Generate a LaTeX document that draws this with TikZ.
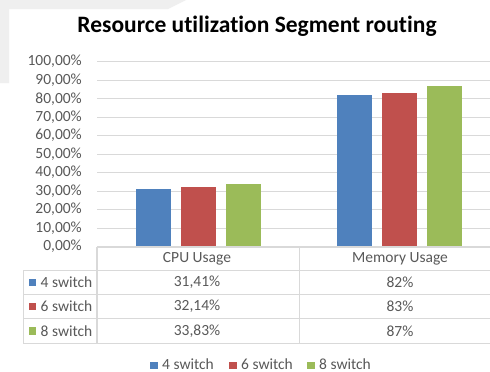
\documentclass[tikz,border=0pt]{standalone}
\usepackage{fontspec}
\setmainfont[Ligatures={NoCommon}]{Carlito}
\definecolor{serA}{HTML}{4F81BD}
\definecolor{serB}{HTML}{C0504D}
\definecolor{serC}{HTML}{9BBB59}
\definecolor{txtgray}{HTML}{595959}
\definecolor{gridgray}{HTML}{D9D9D9}
\definecolor{backgray}{HTML}{EFEFEF}
\begin{document}
\begin{tikzpicture}[x=1pt,y=-1pt,
  lbl/.style={font=\fontsize{15.5}{17}\selectfont, text=txtgray, inner sep=0pt},
  ttl/.style={font=\bfseries\fontsize{23.5}{26}\selectfont, text=black, inner sep=0pt},
  gridline/.style={draw=gridgray, line width=1pt},
  tabline/.style={draw=gridgray, line width=1.4pt},
  key/.style={minimum size=7.5pt, inner sep=0pt, draw=none}]
\useasboundingbox (0,0) rectangle (490,372);
\fill[white] (0,0) rectangle (490,372);
% pale backdrop behind the chart corner
\fill[backgray] (0,0) -- (186,0) -- (168,9) -- (9,9) -- (9,83) -- (0,83) -- cycle;

% title (kerns keep "t" and "i" as separate glyphs)
\node[ttl, anchor=base] (title) at (257,32.7) {Resource ut\kern0pt ilizat\kern0pt ion Segment rout\kern0pt ing};

% value axis: grid and labels
\foreach \i in {0,...,10}{
  \pgfmathsetmacro{\yy}{246.7-\i*18.5}
  \pgfmathtruncatemacro{\pct}{\i*10}
  \ifnum\i>0 \draw[gridline] (97,\yy) -- (490,\yy); \fi
  \node[lbl, anchor=east] (ylab\i) at (82,\yy) {\pct,00\%};
}

% bars
\def\base{246.7}
\foreach \x/\v/\c in {136/31.41/serA,181/32.14/serB,226/33.83/serC,
                      337/82/serA,382/83/serB,427/87/serC}{
  \fill[\c] (\x,\base) rectangle ({\x+35},{\base-\v*1.85});
}

% data table
\draw[tabline] (97,247) -- (490,247);
\foreach \yy in {270.7,294.3,318.7,343.3}{ \draw[tabline] (23.3,\yy) -- (490,\yy); }
\draw[tabline] (23.3,270.7) -- (23.3,343.3);
\draw[tabline] (97,247) -- (97,343.3);
\draw[tabline] (299.3,247) -- (299.3,343.3);

\node[lbl] (hcpu) at (197,258.5) {CPU Usage};
\node[lbl] (hmem) at (400,258.5) {Memory Usage};

\foreach \n/\yy/\c/\a/\b in {4/282.5/serA/{31,41\%}/{82\%},6/306.5/serB/{32,14\%}/{83\%},8/331/serC/{33,83\%}/{87\%}}{
  \node[key, fill=\c] (rkey\n) at (32.5,\yy) {};
  \node[lbl, anchor=west] (rlab\n) at (40.5,\yy) {\n{} switch};
  \node[lbl] (rcpu\n) at (197,\yy) {\a};
  \node[lbl] (rmem\n) at (400,\yy) {\b};
}

% legend
\foreach \n/\xx/\c in {4/154/serA,6/233/serB,8/311/serC}{
  \node[key, fill=\c] (lkey\n) at (\xx,365.5) {};
  \node[lbl, anchor=base west] (llab\n) at (\xx+8,369.5) {\n{} switch};
}
\end{tikzpicture}
\end{document}
